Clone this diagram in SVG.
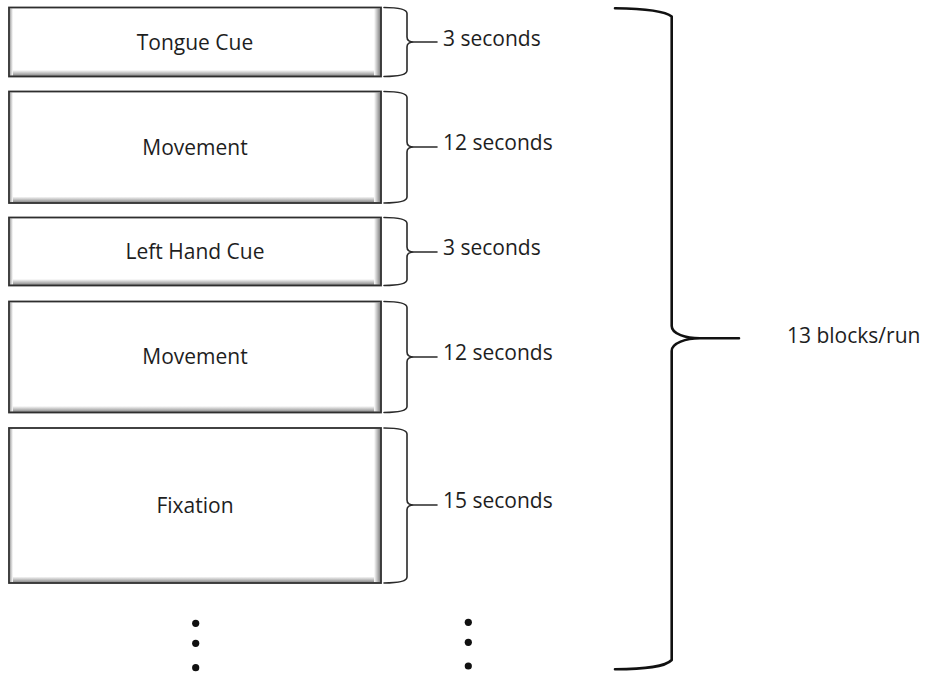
<svg xmlns="http://www.w3.org/2000/svg" width="927" height="675" viewBox="0 0 927 675">
  <style>
    .frame { fill: none; stroke: #2e2e2e; stroke-width: 1.8; }
    .paper { fill: #ffffff; }
    .label { font-family: "Open Sans", "Liberation Sans", sans-serif; font-size: 21px; fill: #1e1e1e; }
    .mid { text-anchor: middle; }
    .brace { fill: none; stroke: #2a2a2a; stroke-width: 1.6; stroke-linecap: round; stroke-linejoin: round; }
    .bigbrace { fill: none; stroke: #111; stroke-width: 2.6; stroke-linecap: round; stroke-linejoin: round; }
    .dot { fill: #111; }
  </style>
  <defs>
    <!-- soft bevel shading inside each block -->
    <linearGradient id="shadeBottom" x1="0" y1="0" x2="0" y2="1">
      <stop offset="0" stop-color="#ffffff"/>
      <stop offset="1" stop-color="#858585"/>
    </linearGradient>
    <linearGradient id="shadeRight" x1="0" y1="0" x2="1" y2="0">
      <stop offset="0" stop-color="#ffffff"/>
      <stop offset="1" stop-color="#7d7d7d"/>
    </linearGradient>
    <linearGradient id="shadeLeft" x1="0" y1="0" x2="1" y2="0">
      <stop offset="0" stop-color="#a8a8a8"/>
      <stop offset="1" stop-color="#ffffff"/>
    </linearGradient>
  </defs>

  <rect width="927" height="675" fill="#ffffff"/>

  <!-- timeline blocks -->
  <g id="tongue-cue">
    <rect class="paper" x="9" y="7.5" width="372" height="69"/>
    <rect x="10" y="70" width="370" height="6" fill="url(#shadeBottom)"/>
    <rect x="374" y="8.5" width="6.5" height="67" fill="url(#shadeRight)"/>
    <rect x="10" y="8.5" width="3" height="67" fill="url(#shadeLeft)"/>
    <rect class="frame" x="9" y="7.5" width="372" height="69"/>
    <text class="label mid" x="195" y="50">Tongue Cue</text>
  </g>

  <g id="movement-1">
    <rect class="paper" x="9" y="91.5" width="372" height="111.5"/>
    <rect x="10" y="196.5" width="370" height="6" fill="url(#shadeBottom)"/>
    <rect x="374" y="92.5" width="6.5" height="109.5" fill="url(#shadeRight)"/>
    <rect x="10" y="92.5" width="3" height="109.5" fill="url(#shadeLeft)"/>
    <rect class="frame" x="9" y="91.5" width="372" height="111.5"/>
    <text class="label mid" x="195" y="155">Movement</text>
  </g>

  <g id="left-hand-cue">
    <rect class="paper" x="9" y="217.5" width="372" height="68"/>
    <rect x="10" y="279" width="370" height="6" fill="url(#shadeBottom)"/>
    <rect x="374" y="218.5" width="6.5" height="66" fill="url(#shadeRight)"/>
    <rect x="10" y="218.5" width="3" height="66" fill="url(#shadeLeft)"/>
    <rect class="frame" x="9" y="217.5" width="372" height="68"/>
    <text class="label mid" x="195" y="259">Left Hand Cue</text>
  </g>

  <g id="movement-2">
    <rect class="paper" x="9" y="301.5" width="372" height="111"/>
    <rect x="10" y="406" width="370" height="6" fill="url(#shadeBottom)"/>
    <rect x="374" y="302.5" width="6.5" height="109" fill="url(#shadeRight)"/>
    <rect x="10" y="302.5" width="3" height="109" fill="url(#shadeLeft)"/>
    <rect class="frame" x="9" y="301.5" width="372" height="111"/>
    <text class="label mid" x="195" y="364">Movement</text>
  </g>

  <g id="fixation">
    <rect class="paper" x="9" y="428" width="372" height="155"/>
    <rect x="10" y="576.5" width="370" height="6" fill="url(#shadeBottom)"/>
    <rect x="374" y="429" width="6.5" height="153" fill="url(#shadeRight)"/>
    <rect x="10" y="429" width="3" height="153" fill="url(#shadeLeft)"/>
    <rect class="frame" x="9" y="428" width="372" height="155"/>
    <text class="label mid" x="195" y="513">Fixation</text>
  </g>

  <!-- duration braces -->
  <g id="connectors">
    <path class="brace" d="M384,7.5 Q407,7.5 407,13.5 V37 Q407,42 414,42 H437 M414,42 Q407,42 407,47 V70.5 Q407,76.5 384,76.5"/>
    <path class="brace" d="M384,91.5 Q407,91.5 407,97.5 V142 Q407,147 414,147 H437 M414,147 Q407,147 407,152 V197 Q407,203 384,203"/>
    <path class="brace" d="M384,217.5 Q407,217.5 407,223.5 V247 Q407,252 414,252 H437 M414,252 Q407,252 407,257 V279.5 Q407,285.5 384,285.5"/>
    <path class="brace" d="M384,301.5 Q407,301.5 407,307.5 V352 Q407,357 414,357 H437 M414,357 Q407,357 407,362 V406.5 Q407,412.5 384,412.5"/>
    <path class="brace" d="M384,428 Q407,428 407,434 V500 Q407,505 414,505 H437 M414,505 Q407,505 407,510 V577 Q407,583 384,583"/>

    <!-- run-length brace -->
    <path class="bigbrace" d="M615,8.3 C645,8.8 665,11 671.7,16.5 V326 C671.7,334 686,338.3 700,338.3 H739 M700,338.3 C686,338.3 671.7,343 671.7,351 V660 C665,667 645,669 615,669.3"/>
  </g>

  <!-- duration labels -->
  <text class="label" x="443" y="45.5">3 seconds</text>
  <text class="label" x="443" y="150">12 seconds</text>
  <text class="label" x="443" y="255">3 seconds</text>
  <text class="label" x="443" y="360">12 seconds</text>
  <text class="label" x="443" y="507.5">15 seconds</text>
  <text class="label" x="787" y="342.5">13 blocks/run</text>

  <!-- continuation dots -->
  <circle class="dot" cx="195.7" cy="623.3" r="3.6"/>
  <circle class="dot" cx="195.7" cy="643.3" r="3.6"/>
  <circle class="dot" cx="195.7" cy="667.7" r="3.6"/>
  <circle class="dot" cx="468.3" cy="622.3" r="3.6"/>
  <circle class="dot" cx="468.3" cy="642.3" r="3.6"/>
  <circle class="dot" cx="468.3" cy="666" r="3.6"/>
</svg>
